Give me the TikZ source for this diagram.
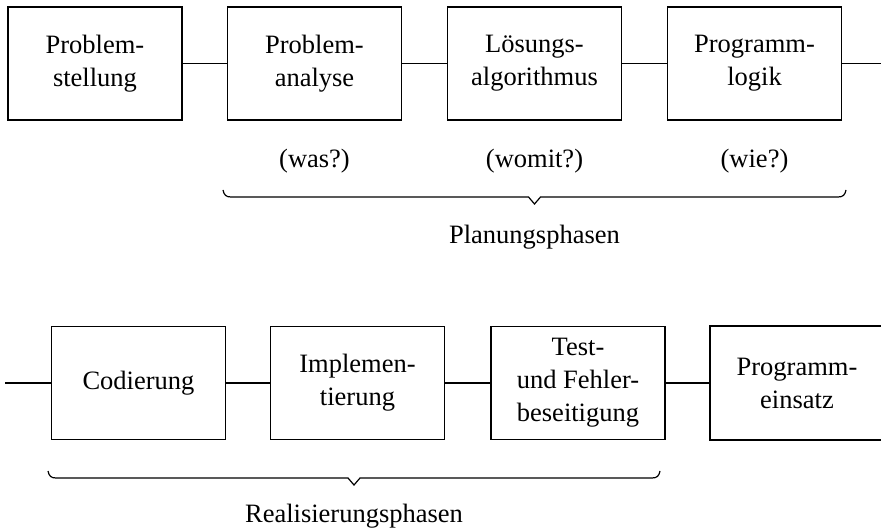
\documentclass[tikz,border=0pt]{standalone}
\usepackage{fontspec}
\setmainfont{Liberation Serif}
\begin{document}
\begin{tikzpicture}[x=1pt,y=-1pt,
  ln/.style={line width=1.4pt},
  stepbox/.style={draw,line width=1.4pt,minimum width=174pt,minimum height=113pt,align=center,inner sep=0pt,
    font=\fontsize{26.5}{33}\selectfont},
  plain/.style={align=center,inner sep=0pt,font=\fontsize{26.5}{33}\selectfont},
  bracepath/.style={line width=1.2pt,line join=miter}]
\useasboundingbox (0,0) rectangle (881,529);
% top row
\node[stepbox] (ps) at (95,63.5) {Problem-\\stellung};
\node[stepbox] (pa) at (314.5,63.5) {Problem-\\analyse};
\node[stepbox] (la) at (534.5,63.5) {Lösungs-\\algorithmus};
\node[stepbox] (pl) at (754.5,63.5) {Programm-\\logik};
\coordinate (topout) at (881,63.5);
\draw[ln] (ps) -- (pa);
\draw[ln] (pa) -- (la);
\draw[ln] (la) -- (pl);
\draw[ln] (pl) -- (topout);
% questions
\node[plain] (q1) at (314.5,161) {(was?)};
\node[plain] (q2) at (534.5,161) {(womit?)};
\node[plain] (q3) at (754.5,161) {(wie?)};
% planning brace
\coordinate (b1a) at (223,190);
\coordinate (b1b) at (846,190);
\coordinate (b1t) at (534.5,204);
\draw[bracepath] (b1a) .. controls (224,195) and (226,197) .. (231,197) -- (528.5,197) -- (b1t) -- (540.5,197) -- (838,197) .. controls (843,197) and (845,195) .. (b1b);
\node[plain] (plan) at (534.5,237) {Planungsphasen};
% bottom row
\coordinate (botin) at (5,383);
\node[stepbox] (cod) at (138.5,383) {Codierung};
\node[stepbox] (imp) at (357.5,383) {Implemen-\\tierung};
\node[stepbox] (tst) at (578,383) {Test-\\und Fehler-\\beseitigung};
\node[plain] (pe) at (797,383) {Programm-\\einsatz};
\coordinate (pew) at (710,383);
\draw[ln] (881,326) -| (pew) |- (881,440);
\draw[ln] (botin) -- (cod);
\draw[ln] (cod) -- (imp);
\draw[ln] (imp) -- (tst);
\draw[ln] (tst) -- (pew);
% realisation brace
\coordinate (b2a) at (48,471);
\coordinate (b2b) at (660,471);
\coordinate (b2t) at (354,485);
\draw[bracepath] (b2a) .. controls (49,476) and (51,478) .. (56,478) -- (348,478) -- (b2t) -- (360,478) -- (652,478) .. controls (657,478) and (659,476) .. (b2b);
\node[plain] (real) at (354,516) {Realisierungsphasen};
\end{tikzpicture}
\end{document}
